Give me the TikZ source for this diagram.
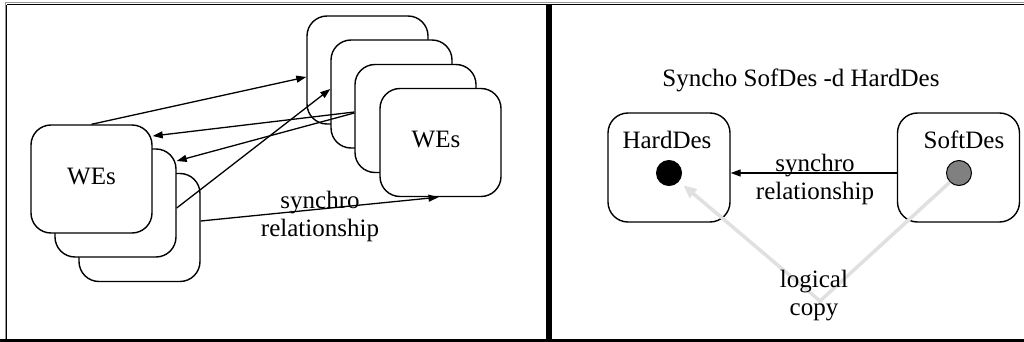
\documentclass[tikz,border=0pt]{standalone}
\usepackage{fontspec}
\setmainfont{Liberation Serif}
\usetikzlibrary{arrows.meta,calc}
\definecolor{copygray}{RGB}{224,224,224}
\definecolor{dotgray}{RGB}{128,128,128}
\definecolor{framegray}{RGB}{150,150,150}
\begin{document}
\begin{tikzpicture}[x=1pt,y=-1pt,
  wbox/.style={draw=black, line width=1.4pt, fill=white, rounded corners=20pt,
    minimum width=121pt, minimum height=108pt, inner sep=0pt},
  txt/.style={font=\fontsize{25}{28}\selectfont, inner sep=0pt, align=center},
  conn/.style={line width=1.3pt, -{Triangle[length=10pt,width=7pt]}},
  copyline/.style={draw=copygray, line width=3.5pt, -{Triangle[length=13pt,width=11pt]}},
  dot/.style={circle, draw=black, line width=1pt, minimum size=25pt, inner sep=0pt}]
\useasboundingbox (0,0) rectangle (1024,342);
% frame
\draw[framegray, line width=1pt] (5,3) -- (1024,3);
\draw[framegray, line width=1pt] (5,3) -- (5,342);
\draw[black, line width=1.3pt] (6.5,4.8) -- (1024,4.8);
\draw[black, line width=1.3pt] (6.8,4.8) -- (6.8,342);
\draw[black, line width=4pt] (0,340.5) -- (1024,340.5);
\draw[black, line width=6pt] (549,4.5) -- (549,342);

% left stack
\node[wbox] (C) at (139.5,227.5) {};
\node[wbox] (B) at (115.5,203) {};
\node[wbox] (A) at (91.5,179) {};
\node[txt] (Alabel) at (91.5,177) {WEs};
% right stack
\node[wbox] (R1) at (367.5,70) {};
\node[wbox] (R2) at (391.5,94) {};
\node[wbox] (R3) at (415.5,118.5) {};
\node[wbox] (R4) at (440.5,142.5) {};
\node[txt] (R4label) at (436,140) {WEs};

% connectors left
\draw[conn] (A.north) -- ($(R1.west)+(0,7)$);
\draw[conn] ($(R3.west)+(0,-6.5)$) -- ($(A.east)+(0,-43)$);
\draw[conn] ($(R3.west)+(0,-5.5)$) -- ($(B.east)+(0,-42)$);
\draw[conn] ($(B.east)+(0,5)$) -- ($(R2.west)+(0,-5)$);
\draw[conn] ($(C.east)+(0,-6.5)$) -- ($(R4.south)+(-2,0)$);
\node[txt, anchor=base] (synL) at (320,236) {synchro\\relationship};

% right panel
\node[txt, anchor=base] (title) at (801,87) {Syncho SofDes -d HardDes};
\node[wbox, minimum width=122pt, minimum height=109pt] (H) at (669,167.5) {};
\node[wbox, minimum width=122pt, minimum height=109pt] (S) at (958.5,167.5) {};
\node[txt, anchor=base] (Hlabel) at (667,148) {HardDes};
\node[txt, anchor=base] (Slabel) at (964,148) {SoftDes};
\node[dot, fill=black] (hd) at (669,173) {};
\node[dot, fill=dotgray] (sd) at (959,173) {};
\coordinate (v) at (820,301);
\draw[copyline, shorten >=6pt] (sd.225) -- (v) -- (hd);
\draw[conn] ($(S.west)+(0,5.5)$) -- ($(H.east)+(0,5.5)$);
\node[txt, anchor=base] (synR) at (815,199) {synchro\\relationship};
\node[txt, anchor=base] (copylabel) at (814,315) {logical\\copy};
\end{tikzpicture}
\end{document}
